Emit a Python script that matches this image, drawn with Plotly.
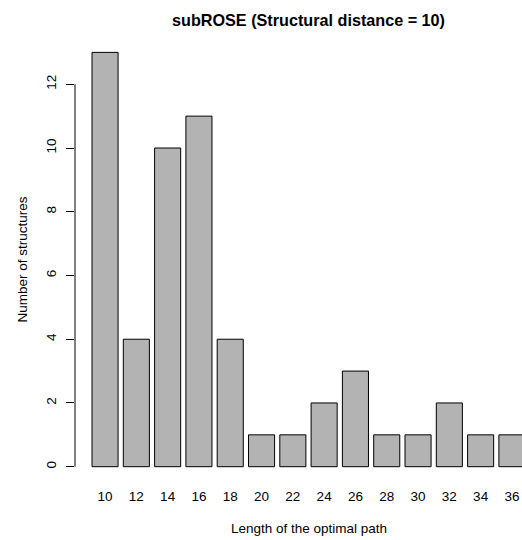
import plotly.graph_objects as go

path_lengths = ["10", "12", "14", "16", "18", "20", "22", "24", "26", "28", "30", "32", "34", "36"]
counts = [13, 4, 10, 11, 4, 1, 1, 2, 3, 1, 1, 2, 1, 1]
y_ticks = [0, 2, 4, 6, 8, 10, 12]

W, H = 522, 540
AXIS_X = 75       # px of y axis
PLOT_TOP = 45
PLOT_BOT = 480
L = AXIS_X
T = PLOT_TOP
B = H - PLOT_BOT
R = 0
PW, PH = W - L - R, H - T - B

def px_x(px):
    return (px - AXIS_X) / PW

def px_y(py):
    return (PLOT_BOT - py) / PH

unit_y = 31.87
y0_px = 466.7
pitch = 31.3
bar_w = 26.08
first_center = 92 + bar_w / 2

xmin = -(first_center - AXIS_X) / pitch
xmax = xmin + PW / pitch
ymin = -(PLOT_BOT - y0_px) / unit_y
ymax = (y0_px - PLOT_TOP) / unit_y

FONT = "Liberation Sans, Arial, Helvetica, sans-serif"
FS = 13.5

fig = go.Figure()
fig.add_trace(go.Bar(
    x=path_lengths, y=counts,
    marker=dict(color="#B3B3B3", line=dict(color="#000000", width=1)),
    hoverinfo="x+y",
))

fig.update_layout(
    width=W, height=H, autosize=False,
    margin=dict(l=L, r=R, t=T, b=B, pad=0),
    paper_bgcolor="white", plot_bgcolor="white",
    bargap=1 - bar_w / pitch,
    showlegend=False,
    font=dict(family=FONT, size=FS, color="#000000"),
    xaxis=dict(
        type="category", range=[xmin, xmax], automargin=False,
        showline=False, showgrid=False, zeroline=False,
        ticks="", tickfont=dict(size=FS), ticklabelstandoff=6,
    ),
    yaxis=dict(
        range=[ymin, ymax], tickvals=y_ticks, automargin=False,
        showline=False, showgrid=False, zeroline=False,
        ticks="outside", ticklen=8, tickwidth=1, tickcolor="#000000",
        tickangle=-90, tickfont=dict(size=FS), ticklabelstandoff=5,
    ),
    shapes=[dict(type="line", xref="paper", yref="y", x0=0, x1=0,
                 y0=y_ticks[0], y1=y_ticks[-1],
                 line=dict(color="#000000", width=1))],
    annotations=[
        dict(text="<b>subROSE (Structural distance = 10)</b>", xref="paper", yref="paper",
             x=px_x(308.5), y=px_y(20), xanchor="center", yanchor="middle",
             showarrow=False, font=dict(size=16.2, family=FONT)),
        dict(text="Length of the optimal path", xref="paper", yref="paper",
             x=px_x(308.5), y=px_y(528), xanchor="center", yanchor="middle",
             showarrow=False, font=dict(size=FS, family=FONT)),
        dict(text="Number of structures", xref="paper", yref="paper",
             x=px_x(22), y=px_y(259.5), xanchor="center", yanchor="middle",
             textangle=-90, showarrow=False, font=dict(size=FS, family=FONT)),
    ],
)

fig.write_html(
    "out.html",
    config={"displayModeBar": False},
    post_script="document.body.style.margin='0';document.body.style.overflow='hidden';",
)
